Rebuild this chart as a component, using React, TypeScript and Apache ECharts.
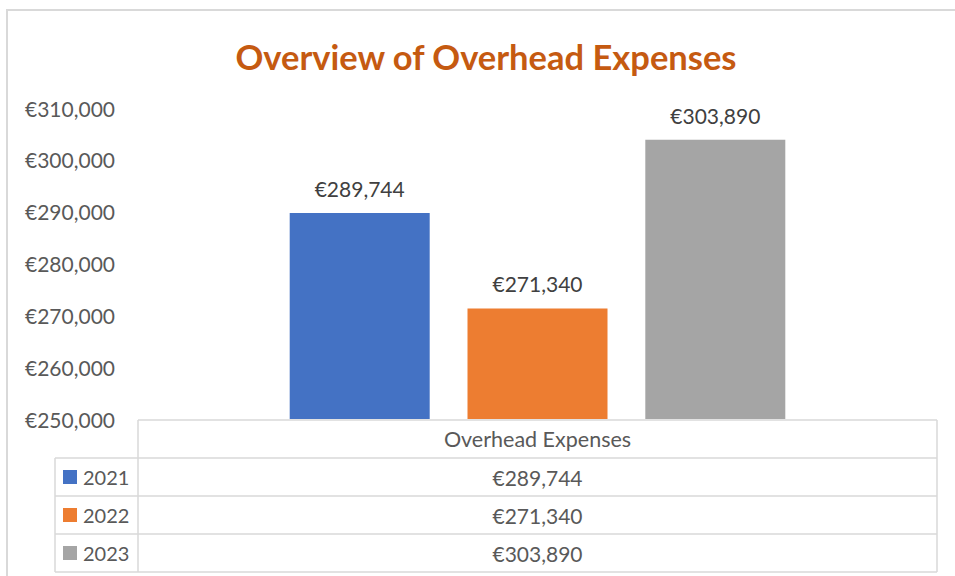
import React, { useEffect, useRef } from "react";
import * as echarts from "echarts";

const title = "Overview of Overhead Expenses";
const categories = ["Overhead Expenses"];
const years = ["2021", "2022", "2023"];
const expenses = [289744, 271340, 303890];
const colors = ["#4472C4", "#ED7D31", "#A5A5A5"];
const yMin = 250000;
const yMax = 310000;
const yStep = 10000;

const fmt = (v: number) => "€" + v.toLocaleString("en-US");

const FONT = 'Lato, "Open Sans", sans-serif';
const TXT = "#595959";
const LINE = "#d9d9d9";

export default function App() {
  const ref = useRef<HTMLDivElement>(null);
  useEffect(() => {
    document.body.style.margin = "0";
    if (!ref.current) return;
    const chart = echarts.init(ref.current, undefined, { renderer: "svg" });

    const tL = 55, tC = 138, tR = 937;
    const rows = [420, 458, 496, 534, 572];
    const lineStyle = { stroke: LINE, lineWidth: 1.5 };
    const els: any[] = [];
    // outer border
    els.push({ type: "polyline", shape: { points: [[7, 576], [7, 10], [955, 10]] }, style: { stroke: LINE, lineWidth: 2, fill: null } });
    // table lines
    els.push({ type: "line", shape: { x1: tC, y1: rows[0], x2: tR, y2: rows[0] }, style: lineStyle });
    for (let i = 1; i < rows.length; i++) {
      els.push({ type: "line", shape: { x1: tL, y1: rows[i], x2: tR, y2: rows[i] }, style: lineStyle });
    }
    els.push({ type: "line", shape: { x1: tC, y1: rows[0], x2: tC, y2: rows[4] }, style: lineStyle });
    els.push({ type: "line", shape: { x1: tR, y1: rows[0], x2: tR, y2: rows[4] }, style: lineStyle });
    els.push({ type: "line", shape: { x1: tL, y1: rows[1], x2: tL, y2: rows[4] }, style: lineStyle });
    // header
    els.push({ type: "text", x: (tC + tR) / 2, y: (rows[0] + rows[1]) / 2, style: { text: categories[0], font: `21.5px ${FONT}`, fill: TXT, align: "center", verticalAlign: "middle" } });
    years.forEach((yr, i) => {
      const cy = (rows[i + 1] + rows[i + 2]) / 2;
      els.push({ type: "rect", shape: { x: 63, y: cy - 7, width: 14, height: 14 }, style: { fill: colors[i] } });
      els.push({ type: "text", x: 83, y: cy, style: { text: yr, font: `20px ${FONT}`, fill: TXT, align: "left", verticalAlign: "middle" } });
      els.push({ type: "text", x: (tC + tR) / 2, y: cy, style: { text: fmt(expenses[i]), font: `21px ${FONT}`, fill: TXT, align: "center", verticalAlign: "middle" } });
    });
    // title
    els.push({ type: "text", x: 486, y: 56, style: { text: title, font: `bold 34.5px ${FONT}`, fill: "#C55A11", align: "center", verticalAlign: "middle" } });

    chart.setOption({
      animation: false,
      grid: { left: 138, right: 18, top: 108, bottom: 157 },
      xAxis: {
        type: "category",
        data: categories,
        axisLine: { show: false },
        axisTick: { show: false },
        axisLabel: { show: false },
      },
      yAxis: {
        type: "value",
        min: yMin,
        max: yMax,
        interval: yStep,
        axisLine: { show: false },
        axisTick: { show: false },
        splitLine: { show: false },
        axisLabel: {
          formatter: (v: number) => fmt(v),
          color: TXT,
          fontSize: 21,
          fontFamily: FONT,
          margin: 23,
        },
      },
      series: years.map((yr, i) => ({
        type: "bar",
        name: yr,
        data: [expenses[i]],
        barWidth: 140,
        barGap: "27%",
        itemStyle: { color: colors[i] },
        label: {
          show: true,
          position: "top",
          distance: 14,
          formatter: (p: any) => fmt(p.value),
          color: "#404040",
          fontSize: 21,
          fontFamily: FONT,
        },
      })),
      graphic: { elements: els },
    });
    return () => chart.dispose();
  }, []);
  return <div ref={ref} style={{ width: 955, height: 576 }} />;
}
